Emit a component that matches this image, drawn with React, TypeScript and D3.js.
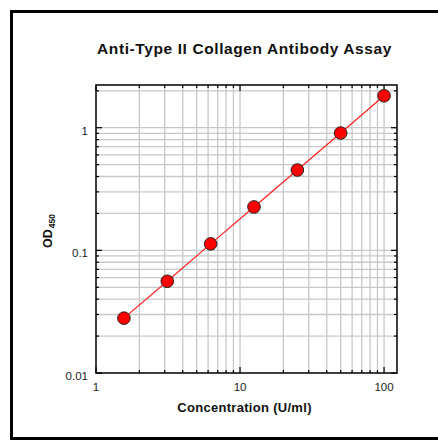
import * as d3 from 'd3';
import React, { useRef, useEffect } from 'react';

// standard curve values
const concentrations = [1.5625, 3.125, 6.25, 12.5, 25, 50, 100];
const odValues = [0.028, 0.056, 0.113, 0.226, 0.452, 0.905, 1.82];
const xTickLabels = [1, 10, 100];
const yTickLabels = [0.01, 0.1, 1];

const W = 438;
const H = 442;
const margin = { left: 96, right: 41, top: 85, bottom: 69 };

function Chart() {
  const ref = useRef<SVGSVGElement>(null);

  useEffect(() => {
    const svg = d3.select(ref.current);
    svg.selectAll('*').remove();

    const x = d3
      .scaleLog()
      .domain([1, 123])
      .range([margin.left, W - margin.right]);
    const y = d3
      .scaleLog()
      .domain([0.01, 2.23])
      .range([H - margin.bottom, margin.top]);

    const [x0, x1] = x.range();
    const [y0, y1] = y.range();

    // outer border
    svg
      .append('rect')
      .attr('x', 11.5)
      .attr('y', 11.5)
      .attr('width', 432)
      .attr('height', 427)
      .attr('fill', 'none')
      .attr('stroke', '#000')
      .attr('stroke-width', 3);

    const xTicks = x.ticks().filter(d => d >= 1 && d <= 123);
    const yTicks = y.ticks().filter(d => d >= 0.01 && d <= 2.23);
    const isMajor = d => Math.abs(Math.log10(d) - Math.round(Math.log10(d))) < 1e-6;

    // grid
    svg
      .append('g')
      .selectAll('line')
      .data(xTicks.filter(d => d > 1))
      .enter()
      .append('line')
      .attr('x1', d => x(d))
      .attr('x2', d => x(d))
      .attr('y1', y1)
      .attr('y2', y0)
      .attr('stroke', '#c8c8c8')
      .attr('stroke-width', 1.3);
    svg
      .append('g')
      .selectAll('line')
      .data(yTicks.filter(d => d > 0.01))
      .enter()
      .append('line')
      .attr('x1', x0)
      .attr('x2', x1)
      .attr('y1', d => y(d))
      .attr('y2', d => y(d))
      .attr('stroke', '#c8c8c8')
      .attr('stroke-width', 1.3);

    // inward ticks on all four sides
    const ticks = svg.append('g').attr('stroke', '#000').attr('stroke-width', 1.2);
    xTicks.forEach(d => {
      const len = isMajor(d) ? 6 : 3;
      ticks.append('line').attr('x1', x(d)).attr('x2', x(d)).attr('y1', y0).attr('y2', y0 - len);
      ticks.append('line').attr('x1', x(d)).attr('x2', x(d)).attr('y1', y1).attr('y2', y1 + len);
    });
    yTicks.forEach(d => {
      const len = isMajor(d) ? 6 : 3;
      ticks.append('line').attr('x1', x0).attr('x2', x0 + len).attr('y1', y(d)).attr('y2', y(d));
      ticks.append('line').attr('x1', x1).attr('x2', x1 - len).attr('y1', y(d)).attr('y2', y(d));
    });

    // frame
    svg
      .append('rect')
      .attr('x', x0)
      .attr('y', y1)
      .attr('width', x1 - x0)
      .attr('height', y0 - y1)
      .attr('fill', 'none')
      .attr('stroke', '#000')
      .attr('stroke-width', 1.5);

    // tick labels
    svg
      .append('g')
      .selectAll('text')
      .data(xTickLabels)
      .enter()
      .append('text')
      .attr('x', d => x(d))
      .attr('y', y0 + 18)
      .attr('text-anchor', 'middle')
      .attr('font-family', 'Liberation Sans, Arial, sans-serif')
      .attr('font-size', 11.5)
      .attr('fill', '#222')
      .text(d => d);
    svg
      .append('g')
      .selectAll('text')
      .data(yTickLabels)
      .enter()
      .append('text')
      .attr('x', x0 - 8)
      .attr('y', d => y(d) + 7)
      .attr('text-anchor', 'end')
      .attr('font-family', 'Liberation Sans, Arial, sans-serif')
      .attr('font-size', 11.5)
      .attr('fill', '#222')
      .text(d => d);

    // curve + points
    const pts = concentrations.map((c, i) => [c, odValues[i]]);
    svg
      .append('path')
      .datum(pts)
      .attr('fill', 'none')
      .attr('stroke', '#ff2020')
      .attr('stroke-width', 1.2)
      .attr('d', d3.line().x(d => x(d[0])).y(d => y(d[1])));
    svg
      .append('g')
      .selectAll('circle')
      .data(pts)
      .enter()
      .append('circle')
      .attr('cx', d => x(d[0]))
      .attr('cy', d => y(d[1]))
      .attr('r', 6.3)
      .attr('fill', '#ff0000')
      .attr('stroke', '#222')
      .attr('stroke-width', 1);

    // titles
    svg
      .append('text')
      .attr('x', 244.5)
      .attr('y', 54)
      .attr('text-anchor', 'middle')
      .attr('font-family', 'Liberation Sans, Arial, sans-serif')
      .attr('font-weight', 'bold')
      .attr('font-size', 15.5)
      .attr('letter-spacing', 0.6)
      .attr('fill', '#111')
      .text('Anti-Type II Collagen Antibody Assay');
    svg
      .append('text')
      .attr('x', 244.5)
      .attr('y', 412)
      .attr('text-anchor', 'middle')
      .attr('font-family', 'Liberation Sans, Arial, sans-serif')
      .attr('font-weight', 'bold')
      .attr('font-size', 13)
      .attr('letter-spacing', 0.3)
      .attr('fill', '#111')
      .text('Concentration (U/ml)');
    const yt = svg
      .append('text')
      .attr('transform', 'translate(52,231) rotate(-90)')
      .attr('text-anchor', 'middle')
      .attr('font-family', 'Liberation Sans, Arial, sans-serif')
      .attr('font-weight', 'bold')
      .attr('font-size', 12.5)
      .attr('fill', '#111');
    yt.append('tspan').text('OD');
    yt.append('tspan').attr('font-size', 8.5).attr('dy', 3).attr('dx', 1).text('450');
  }, []);

  return <svg ref={ref} width={W} height={H} style={{ display: 'block' }} />;
}

export default function App() {
  return (
    <div style={{ position: 'absolute', left: 0, top: 0, background: '#fff' }}>
      <Chart />
    </div>
  );
}
